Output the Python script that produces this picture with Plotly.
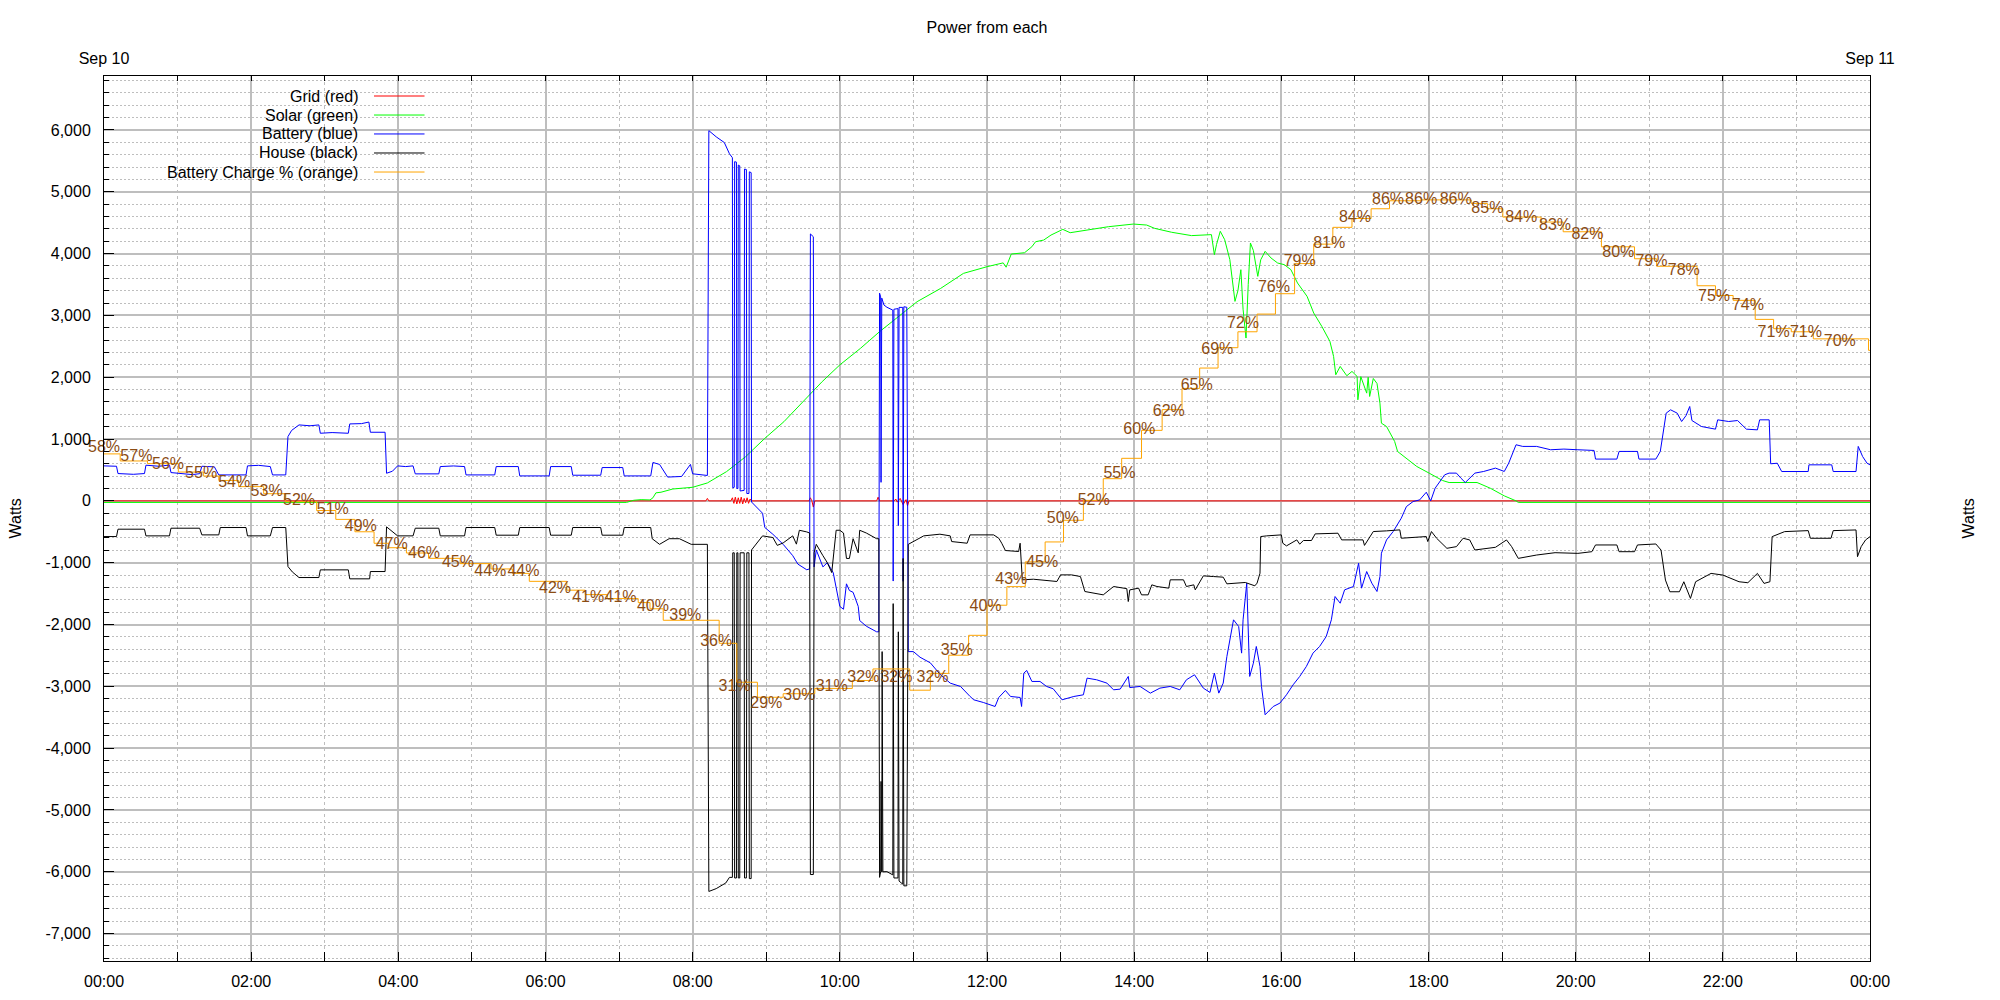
import pandas as pd
import plotly.graph_objects as go

DAY = pd.Timestamp("2023-09-10 00:00")

# ---------------- data (time in hours since Sep 10 00:00) ----------------
grid_t = [0, 8.18, 8.2, 8.22, 8.52, 8.54, 8.56, 8.58, 8.60, 8.62, 8.64, 8.66, 8.68, 8.70, 8.72, 8.74,
          8.76, 8.78, 8.80, 9.58, 9.60, 9.62, 9.64, 9.66, 10.50, 10.52, 10.54, 10.74, 10.76, 10.78,
          10.82, 10.86, 10.90, 10.92, 10.94, 24]
grid_w = [0, 0, 40, 0, 0, 50, -40, 60, -50, 50, -40, 60, -50, 40, -30, 50,
          -40, 30, 0, 0, 50, 0, -100, 0, 0, 60, 0, 0, 30, -20,
          40, -60, 20, -80, 0, 0]

solar_t = [0, 7.1, 7.2, 7.3, 7.42, 7.46, 7.5, 7.57, 7.73, 8.0, 8.2, 8.46, 8.72, 8.98, 9.24, 9.5,
           9.76, 10.0, 10.28, 10.54, 10.79, 11.05, 11.37, 11.68, 12.0, 12.22, 12.26, 12.33, 12.51,
           12.61, 12.66, 12.77, 12.87, 13.03, 13.13, 13.39, 13.65, 13.99, 14.17, 14.28, 14.51, 14.78,
           15.05, 15.09, 15.12, 15.17, 15.23, 15.30, 15.37, 15.41, 15.45, 15.48, 15.52, 15.55, 15.58,
           15.62, 15.68, 15.72, 15.78, 15.86, 15.95, 16.04, 16.13, 16.22, 16.35, 16.44, 16.55, 16.66,
           16.71, 16.74, 16.80, 16.89, 16.96, 17.03, 17.04, 17.08, 17.16, 17.18, 17.20, 17.25, 17.30,
           17.34, 17.36, 17.43, 17.54, 17.58, 17.78, 17.84, 18.01, 18.19, 18.28, 18.66, 18.84, 19.03,
           19.19, 19.22, 24.0]
solar_w = [-25, -25, 10, 20, 15, 50, 130, 140, 192, 220, 290, 473, 715, 1011, 1281, 1605,
           1929, 2200, 2467, 2737, 2980, 3222, 3437, 3680, 3788, 3850, 3780, 3993, 4014,
           4111, 4192, 4219, 4300, 4392, 4338, 4381, 4435, 4478, 4462, 4408, 4345, 4291,
           4307, 3983, 4150, 4361, 4226, 3902, 3227, 3400, 3740, 3100, 2634, 3500, 4172,
           4050, 3632, 3900, 4037, 3929, 3848, 3821, 3740, 3524, 3308, 3039, 2823, 2580,
           2337, 2040, 2175, 2024, 2094, 2013, 1635, 2010, 1743, 2000, 1689, 1980, 1900,
           1581, 1257, 1203, 961, 799, 610, 557, 448, 330, 297, 297, 205, 81,
           0, -25, -25]

battery_t = [0.00, 0.17, 0.19, 0.40, 0.55, 0.57, 0.75, 0.89, 0.91, 1.07, 1.20, 1.30, 1.33, 1.50,
             1.56, 1.93, 1.95, 2.10, 2.26, 2.29, 2.47, 2.50, 2.55, 2.65, 2.80, 2.92, 2.94, 3.10,
             3.32, 3.34, 3.50, 3.60, 3.62, 3.82, 3.84, 3.92, 3.99, 4.10, 4.20, 4.23, 4.55, 4.57,
             4.75, 4.90, 4.92, 5.31, 5.33, 5.63, 5.65, 6.05, 6.07, 6.35, 6.37, 6.75, 6.77, 7.05,
             7.07, 7.43, 7.46, 7.55, 7.66, 7.85, 7.97, 8.00, 8.20, 8.22, 8.32, 8.43, 8.50, 8.54,
             8.545, 8.565, 8.57, 8.595, 8.60, 8.615, 8.62, 8.64, 8.645, 8.70, 8.705, 8.73, 8.736,
             8.765, 8.77, 8.795, 8.80, 8.95, 8.98, 9.09, 9.23, 9.36, 9.43, 9.55, 9.59, 9.60, 9.64,
             9.65, 9.68, 9.77, 9.83, 9.91, 9.95, 10.00, 10.05, 10.09, 10.13, 10.18, 10.25, 10.27,
             10.36, 10.50, 10.53, 10.54, 10.555, 10.56, 10.57, 10.60, 10.64, 10.72, 10.725, 10.735,
             10.79, 10.795, 10.805, 10.855, 10.86, 10.87, 10.91, 10.93, 11.00, 11.09, 11.23, 11.36,
             11.50, 11.64, 11.77, 11.82, 11.95, 12.11, 12.16, 12.25, 12.32, 12.45, 12.47, 12.50,
             12.54, 12.61, 12.72, 12.81, 12.90, 13.02, 13.18, 13.31, 13.36, 13.49, 13.63, 13.72,
             13.81, 13.92, 13.94, 14.08, 14.22, 14.35, 14.49, 14.62, 14.71, 14.82, 14.94, 15.03,
             15.09, 15.15, 15.21, 15.26, 15.35, 15.42, 15.46, 15.48, 15.53, 15.57, 15.62, 15.66,
             15.71, 15.73, 15.78, 15.89, 15.98, 16.07, 16.16, 16.25, 16.34, 16.43, 16.52, 16.61,
             16.68, 16.73, 16.80, 16.86, 16.98, 17.05, 17.09, 17.16, 17.23, 17.30, 17.34, 17.36,
             17.43, 17.52, 17.63, 17.70, 17.79, 17.88, 17.97, 18.03, 18.09, 18.22, 18.28, 18.38,
             18.44, 18.50, 18.63, 18.75, 18.91, 19.03, 19.09, 19.19, 19.28, 19.47, 19.66, 19.84,
             20.03, 20.25, 20.27, 20.56, 20.59, 20.84, 20.86, 21.09, 21.15, 21.23, 21.29, 21.38,
             21.44, 21.50, 21.55, 21.58, 21.71, 21.90, 21.93, 22.08, 22.20, 22.32, 22.47, 22.50,
             22.63, 22.65, 22.74, 22.80, 23.16, 23.17, 23.48, 23.50, 23.81, 23.84, 23.90, 23.96,
             24.0]
battery_w = [566, 560, 442, 430, 442, 577, 560, 580, 458, 445, 425, 440, 560, 550,
             420, 420, 566, 575, 555, 420, 420, 1040, 1140, 1229, 1215, 1229, 1094, 1105,
             1094, 1245, 1250, 1275, 1110, 1110, 447, 480, 566, 555, 566, 437, 437, 555,
             565, 555, 420, 420, 555, 555, 404, 404, 555, 555, 415, 415, 539, 539,
             404, 404, 621, 590, 385, 395, 590, 438, 411, 5989, 5889, 5797, 5615, 5551,
             210, 220, 5487, 5480, 200, 200, 5432, 5420, 160, 170, 5368, 5360, 119,
             120, 5323, 5310, -18, -200, -430, -540, -703, -886, -1023, -1114, -1100, 4318, 4273,
             -1068, -794, -1068, -1000, -1160, -1388, -1707, -1753, -1342, -1450, -1479, -1707, -1936,
             -2027, -2118, -2118, 3360, 3300, 300, 3280, 3168, 3132, 3086, -1297, 3100,
             3110, -400, 3130, 3130, -1300, 3140, 3132, -2438, -2438, -2529, -2620, -2803,
             -2948, -3002, -3164, -3218, -3261, -3326, -3180, -3067, -3164, -3180, -3326, -2787,
             -2743, -2921, -2921, -3002, -3040, -3218, -3164, -3137, -2867, -2894, -2948, -3056,
             -3045, -2840, -3020, -3002, -3110, -3029, -3002, -3056, -2894, -2813, -3029, -3099,
             -2787, -3110, -2948, -2517, -1924, -2032, -2463, -1924, -1331, -2840, -2625, -2355,
             -2679, -3002, -3460, -3326, -3272, -3137, -2975, -2840, -2679, -2463, -2355, -2194,
             -1924, -1547, -1655, -1439, -1385, -1008, -1412, -1143, -1331, -1466, -1224, -846,
             -631, -496, -280, -92, -11, 16, 140, 0, 205, 422, 449, 449,
             368, 297, 449, 476, 530, 476, 611, 908, 881, 881, 827, 838,
             827, 816, 676, 676, 800, 800, 676, 676, 800, 1419, 1473, 1419,
             1284, 1380, 1527, 1300, 1203, 1160, 1311, 1284, 1300, 1160, 1149, 1311,
             1311, 600, 609, 475, 475, 583, 583, 475, 475, 881, 717, 609,
             583]

house_t = [0.0, 0.17, 0.19, 0.55, 0.57, 0.89, 0.91, 1.30, 1.33, 1.56, 1.58, 1.93, 1.95, 2.26,
           2.29, 2.47, 2.50, 2.56, 2.65, 2.92, 2.94, 3.32, 3.34, 3.61, 3.62, 3.82, 3.84, 3.99,
           4.20, 4.23, 4.55, 4.57, 4.90, 4.92, 5.31, 5.33, 5.63, 5.65, 6.05, 6.07, 6.35, 6.37,
           6.75, 6.77, 7.05, 7.07, 7.43, 7.45, 7.55, 7.68, 7.82, 7.98, 8.20, 8.22, 8.32, 8.45,
           8.50, 8.54, 8.545, 8.565, 8.57, 8.595, 8.60, 8.615, 8.62, 8.64, 8.645, 8.70, 8.705,
           8.73, 8.736, 8.765, 8.77, 8.795, 8.80, 8.95, 9.09, 9.15, 9.23, 9.36, 9.41, 9.45, 9.55,
           9.59, 9.60, 9.64, 9.65, 9.68, 9.77, 9.83, 9.89, 9.95, 10.00, 10.05, 10.09, 10.13, 10.18,
           10.25, 10.27, 10.36, 10.50, 10.53, 10.54, 10.555, 10.56, 10.57, 10.575, 10.585, 10.64,
           10.72, 10.725, 10.735, 10.79, 10.795, 10.805, 10.855, 10.86, 10.87, 10.91, 10.93, 11.14,
           11.36, 11.50, 11.52, 11.73, 11.77, 12.09, 12.16, 12.20, 12.25, 12.43, 12.45, 12.48,
           12.63, 12.95, 13.00, 13.15, 13.27, 13.33, 13.45, 13.58, 13.72, 13.83, 13.90, 13.92,
           13.94, 14.06, 14.10, 14.19, 14.24, 14.31, 14.47, 14.49, 14.67, 14.71, 14.81, 14.83,
           14.94, 15.08, 15.21, 15.26, 15.44, 15.51, 15.64, 15.67, 15.71, 15.72, 15.80, 16.00,
           16.02, 16.07, 16.21, 16.25, 16.30, 16.41, 16.46, 16.77, 16.82, 16.98, 17.11, 17.13,
           17.20, 17.25, 17.43, 17.61, 17.63, 17.79, 17.97, 17.99, 18.04, 18.11, 18.25, 18.38,
           18.47, 18.56, 18.63, 18.91, 19.06, 19.13, 19.22, 19.47, 19.72, 20.03, 20.22, 20.27,
           20.56, 20.59, 20.80, 20.84, 21.09, 21.16, 21.22, 21.28, 21.41, 21.47, 21.56, 21.63,
           21.84, 22.00, 22.22, 22.34, 22.47, 22.56, 22.64, 22.67, 22.84, 23.16, 23.19, 23.47,
           23.50, 23.81, 23.83, 23.88, 23.94, 24.0]
house_w = [-577, -577, -458, -458, -566, -566, -442, -442, -550, -550, -431, -431, -566, -566,
           -431, -431, -1062, -1150, -1240, -1240, -1116, -1116, -1261, -1261, -1143, -1143, -420, -566,
           -566, -442, -442, -566, -566, -431, -431, -555, -555, -431, -431, -555, -555, -431,
           -431, -555, -555, -431, -431, -612, -703, -612, -612, -703, -703, -6318, -6272, -6181,
           -6090, -6090, -840, -840, -6100, -6100, -840, -840, -6100, -6100, -840, -840, -6100,
           -6100, -840, -840, -6110, -6110, -794, -566, -593, -720, -680, -566, -700, -475, -502,
           -520, -6044, -6044, -840, -703, -886, -1000, -1160, -475, -475, -520, -931, -931, -612,
           -840, -475, -520, -612, -612, -6090, -6000, -4538, -6000, -2438, -6000, -5998,
           -6050, -1662, -6100, -6100, -2118, -6150, -6200, -931, -6227, -6227, -703, -566,
           -539, -566, -658, -685, -550, -550, -604, -685, -803, -819, -685, -1277,
           -1267, -1304, -1197, -1197, -1224, -1466, -1493, -1520, -1385, -1412, -1420, -1628,
           -1440, -1412, -1520, -1520, -1358, -1385, -1412, -1277, -1277, -1385, -1358, -1439,
           -1213, -1224, -1234, -1342, -1331, -1320, -1374, -1331, -1170, -577, -566, -550,
           -685, -728, -631, -700, -641, -641, -534, -523, -631, -631, -631, -720,
           -600, -496, -485, -469, -604, -588, -577, -658, -496, -604, -767, -740,
           -605, -632, -794, -751, -632, -740, -930, -876, -838, -849, -822, -713,
           -713, -822, -822, -713, -697, -795, -1281, -1470, -1470, -1308, -1578, -1308,
           -1173, -1200, -1308, -1324, -1173, -1335, -1308, -578, -497, -481, -605, -605,
           -481, -470, -903, -740, -632, -578]

charge_t = [0, 0.22, 0.59, 1.01, 1.35, 1.56, 1.83, 2.17, 2.47, 2.89, 3.15, 3.41, 3.67, 3.87, 4.11,
            4.41, 4.84, 5.26, 5.55, 5.78, 6.29, 6.54, 6.84, 7.26, 7.42, 7.6, 8.36, 8.6, 8.88, 9.23,
            9.66, 10.17, 10.45, 10.95, 11.23, 11.48, 11.75, 12.0, 12.27, 12.52, 12.79, 13.04, 13.31,
            13.58, 13.83, 14.1, 14.38, 14.65, 14.89, 15.14, 15.41, 15.67, 15.92, 16.18, 16.44, 16.7,
            16.96, 17.22, 17.47, 17.9, 18.58, 18.8, 19.01, 19.53, 19.83, 20.35, 20.8, 21.1, 21.65,
            21.9, 22.14, 22.44, 22.69, 22.93, 23.23, 23.98, 24.0]
charge_pct = [57.3, 56.5, 56.2, 55.25, 54.8, 54.3, 53.6, 52.8, 51.9, 50.9, 49.9, 48.5, 47.2, 46.7, 46.1,
              45.5, 44.9, 44.3, 43.8, 42.9, 41.9, 41.4, 40.95, 40.5, 39.8, 38.5, 35.9, 31.5, 29.8, 30.2,
              30.8, 31.7, 33.0, 30.6, 32.5, 34.55, 36.8, 40.2, 42.3, 45.1, 47.35, 49.8, 52.05,
              54.5, 56.8, 59.96, 62.3, 64.7, 67.0, 69.3, 71.1, 73.1, 75.4, 78.8, 81.0, 82.9,
              83.9, 85.0, 85.9, 86.0, 85.6, 85.0, 84.06, 83.5, 82.4, 80.7, 79.35, 78.5, 76.3,
              75.2, 74.65, 72.5, 71.45, 71.1, 70.3, 69.0, 69.0]

label_t = [0, 0.44, 0.87, 1.32, 1.77, 2.21, 2.65, 3.11, 3.49, 3.91, 4.35, 4.81, 5.25, 5.7, 6.13,
           6.58, 7.02, 7.46, 7.9, 8.32, 8.57, 9.0, 9.45, 9.89, 10.32, 10.77, 11.26, 11.59, 11.98,
           12.33, 12.75, 13.03, 13.45, 13.8, 14.07, 14.47, 14.85, 15.13, 15.48, 15.9, 16.25, 16.65,
           17.0, 17.45, 17.9, 18.37, 18.8, 19.26, 19.72, 20.16, 20.58, 21.03, 21.47, 21.88, 22.34,
           22.69, 23.13, 23.59]
label_pct = [58, 57, 56, 55, 54, 53, 52, 51, 49, 47, 46, 45, 44, 44, 42,
             41, 41, 40, 39, 36, 31, 29, 30, 31, 32, 32, 32, 35, 40,
             43, 45, 50, 52, 55, 60, 62, 65, 69, 72, 76, 79, 81,
             84, 86, 86, 86, 85, 84, 83, 82, 80, 79, 78, 75, 74,
             71, 71, 70]

y_ticks = list(range(-7000, 7000, 1000))
y_ticktext = [f"{v:,}" for v in y_ticks]
top_hours = list(range(0, 25))
top_text = ["Sep 10"] + [""] * 23 + ["Sep 11"]

series = [
    ("Grid (red)", grid_t, grid_w, "#ff0000"),
    ("Solar (green)", solar_t, solar_w, "#00ff00"),
    ("Battery (blue)", battery_t, battery_w, "#0000ff"),
    ("House (black)", house_t, house_w, "#000000"),
]
CHARGE_NAME = "Battery Charge % (orange)"
CHARGE_COLOR = "#ffa500"
LABEL_COLOR = "#8b4c13"


def at(hours):
    return DAY + pd.to_timedelta(hours, unit="h")


FONT = "Liberation Sans, Arial, sans-serif"
GRID = "#bebebe"

# the page body has an 8px default margin: size the figure so the plot lands
# at the reference pixel positions (plot box 104..1870 x 76..961 in the window)
FIG_W, FIG_H = 1992, 992

fig = go.Figure()
for name, t, w, col in series:
    fig.add_trace(go.Scatter(x=at(t), y=w, mode="lines", name=name,
                             line=dict(color=col, width=1), showlegend=False))
fig.add_trace(go.Scatter(x=at(charge_t), y=charge_pct, mode="lines", name=CHARGE_NAME,
                         line=dict(color=CHARGE_COLOR, width=1, shape="hv"),
                         xaxis="x2", yaxis="y3", showlegend=False))
fig.add_trace(go.Scatter(x=at(label_t), y=label_pct, mode="text",
                         text=[f"{p}%" for p in label_pct], textposition="middle center",
                         textfont=dict(color=LABEL_COLOR, size=16, family=FONT),
                         xaxis="x2", yaxis="y3", showlegend=False, cliponaxis=False))

x_range = [at([0])[0], at([24])[0]]
y_range = [-7443, 6873]

# manual legend (gnuplot style: text right-aligned, sample to the right)
legend_items = [(n, c) for n, _, _, c in series] + [(CHARGE_NAME, CHARGE_COLOR)]
annotations = []
shapes = [dict(type="rect", xref="paper", yref="paper", x0=0.001, x1=0.1863,
               y0=0.8825, y1=0.9898, fillcolor="white", line=dict(width=0), layer="between")]
row_y = [0.9774, 0.9559, 0.9345, 0.9130, 0.8915]
for (name, col), yy in zip(legend_items, row_y):
    annotations.append(dict(text=name, xref="paper", yref="paper", x=0.145, y=yy,
                            xanchor="right", yanchor="middle", showarrow=False,
                            font=dict(size=16, family=FONT, color="black")))
    shapes.append(dict(type="line", xref="paper", yref="paper", x0=0.1529, x1=0.1815,
                       y0=yy, y1=yy, line=dict(color=col, width=1), layer="above"))

annotations.append(dict(text="Watts", xref="paper", yref="paper", x=0, y=0.5, xshift=-89,
                        textangle=-90, showarrow=False, xanchor="center", yanchor="middle",
                        font=dict(size=16, family=FONT, color="black")))
annotations.append(dict(text="Watts", xref="paper", yref="paper", x=1, y=0.5, xshift=98,
                        textangle=-90, showarrow=False, xanchor="center", yanchor="middle",
                        font=dict(size=16, family=FONT, color="black")))

fig.update_layout(
    width=FIG_W, height=FIG_H,
    margin=dict(l=96, r=130, t=68, b=39, autoexpand=False),
    paper_bgcolor="white", plot_bgcolor="white",
    font=dict(family=FONT, size=16, color="black"),
    title=dict(text="Power from each", x=0.5, xref="paper", xanchor="center",
               y=1 - 19 / FIG_H, yref="container", yanchor="middle", automargin=False,
               font=dict(size=16, family=FONT, color="black")),
    showlegend=False,
    xaxis=dict(type="date", range=x_range, tickformat="%H:%M", dtick=7200000, tick0=x_range[0],
               ticks="inside", ticklen=9, tickcolor="black", showline=True, linecolor="black",
               linewidth=1, mirror=True, showgrid=True, gridcolor=GRID, gridwidth=2,
               zeroline=False, ticklabelstandoff=6, automargin=False,
               minor=dict(dtick=3600000, tick0=x_range[0], ticks="inside", ticklen=9,
                          tickcolor="black", showgrid=True, gridcolor=GRID, gridwidth=1,
                          griddash="3px,3px")),
    xaxis2=dict(type="date", overlaying="x", side="top", range=x_range,
                tickmode="array", tickvals=at(top_hours), ticktext=top_text,
                ticks="inside", ticklen=5, tickcolor="black", showgrid=False, showline=False,
                zeroline=False, ticklabelstandoff=8, automargin=False),
    yaxis=dict(range=y_range, tickmode="array", tickvals=y_ticks, ticktext=y_ticktext,
               ticks="inside", ticklen=10, tickcolor="black", showline=True, linecolor="black",
               linewidth=1, mirror=True, showgrid=True, gridcolor=GRID, gridwidth=2,
               zeroline=False, ticklabelstandoff=9, automargin=False,
               minor=dict(dtick=200, tick0=0, ticks="inside", ticklen=5, tickcolor="black",
                          showgrid=True, gridcolor=GRID, gridwidth=1, griddash="2px,2px")),
    yaxis2=dict(overlaying="y", side="right", range=y_range, tickmode="array",
                tickvals=y_ticks, ticktext=y_ticktext, ticks="inside", ticklen=10,
                tickcolor="black", showgrid=False, showline=False, zeroline=False,
                ticklabelstandoff=8, automargin=False,
                minor=dict(dtick=200, tick0=0, ticks="inside", ticklen=5, tickcolor="black")),
    yaxis3=dict(overlaying="y", range=[0, 100], visible=False, showgrid=False, zeroline=False,
                automargin=False),
    annotations=annotations,
    shapes=shapes,
)

fig.write_html("out.html")
